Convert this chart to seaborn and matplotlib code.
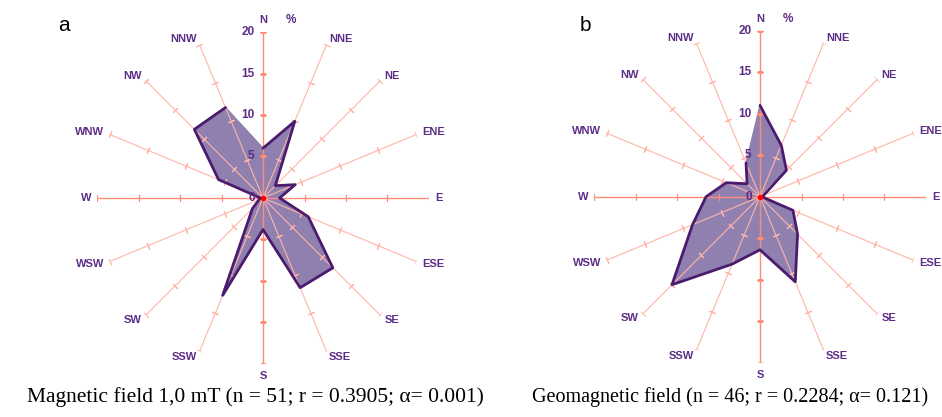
import numpy as np
import matplotlib
matplotlib.use('Agg')
import matplotlib.pyplot as plt
import seaborn as sns

# Wind-rose style directions and frequencies (%)
directions = ['N', 'NNE', 'NE', 'ENE', 'E', 'ESE', 'SE', 'SSE',
              'S', 'SSW', 'SW', 'WSW', 'W', 'WNW', 'NW', 'NNW']
field_a = [6.0, 10.0, 2.1, 4.2, 2.0, 5.9, 11.9, 11.7,
           3.8, 12.7, 1.8, 0.5, 0.3, 5.8, 11.7, 11.8]
field_b = [11.0, 6.7, 4.5, 0.5, 0.2, 4.3, 6.4, 11.1,
           6.4, 8.8, 15.0, 8.8, 6.5, 4.4, 2.2, 4.4]
radial_ticks = [0, 5, 10, 15, 20]
captions = ['Magnetic field 1,0 mT (n = 51; r = 0.3905; \u03b1= 0.001)',
            'Geomagnetic field (n = 46; r = 0.2284; \u03b1= 0.121)']
panel_letters = ['a', 'b']

sns.set_theme(style='white')
plt.rcParams['font.family'] = ['Liberation Sans', 'DejaVu Sans']

text_col = '#5C2D86'
edge_col = '#4B1C6E'
fill_col = '#8F80B0'
spoke_main = '#FF8C78'
spoke_light = '#FFB5A8'

fig = plt.figure(figsize=(9.42, 4.17), dpi=100)


def draw_rose(rect, values):
    ax = fig.add_axes(rect, projection='polar')
    ax.set_theta_zero_location('N')
    ax.set_theta_direction(-1)
    ax.set_ylim(0, 20)
    ax.axis('off')

    angles_deg = np.arange(len(directions)) * 22.5
    theta = np.deg2rad(angles_deg)

    # polygon
    th_closed = np.append(theta, theta[0])
    v_closed = np.append(values, values[0])
    ax.fill(th_closed, v_closed, color=fill_col, zorder=1)

    # spokes with tick marks and direction labels
    for i, (t, a) in enumerate(zip(theta, angles_deg)):
        main = i % 4 == 0
        col = spoke_main if main else spoke_light
        lw = 1.0 if main else 0.8
        ax.plot([t, t], [0, 20], color=col, lw=lw, zorder=2)
        ax.plot([t] * 4, radial_ticks[1:], linestyle='none',
                marker=(2, 2, 90 - a), ms=5, mew=0.8, color=col, zorder=2)

        sx, sy = np.sin(t), np.cos(t)
        if a in (0, 180):
            ha, d = 'center', 12
        elif a < 180:
            ha, d = 'left', 6
        else:
            ha, d = 'right', 6
        ax.annotate(directions[i], xy=(t, 20), xytext=(d * sx, d * sy),
                    textcoords='offset pixels', ha=ha, va='center',
                    color=text_col, fontsize=8, fontweight='bold',
                    annotation_clip=False)

    sns.lineplot(x=th_closed, y=v_closed, sort=False, ax=ax,
                 color=edge_col, lw=2.0, zorder=3)
    ax.plot([0], [0], 'o', color='red', ms=3, zorder=4)

    for r in radial_ticks:
        ax.annotate(str(r), xy=(0, r), xytext=(-6, 0), textcoords='offset points',
                    ha='right', va='center', color=text_col, fontsize=8.5,
                    fontweight='bold', annotation_clip=False)
    ax.annotate('%', xy=(0, 20), xytext=(28, 12), textcoords='offset pixels',
                ha='center', va='center', color=text_col, fontsize=8.5,
                fontweight='bold', annotation_clip=False)
    return ax


draw_rose([0.1030, 0.1271, 0.3524, 0.7962], field_a)
draw_rose([0.6306, 0.1302, 0.3524, 0.7962], field_b)

fig.text(0.068, 0.94, panel_letters[0], fontsize=15, color='black', ha='center', va='center')
fig.text(0.621, 0.94, panel_letters[1], fontsize=15, color='black', ha='center', va='center')

serif = ['Liberation Serif', 'DejaVu Serif']
fig.text(0.2707, 0.036, captions[0], fontsize=15.5, family=serif,
         ha='center', va='baseline', color='black')
fig.text(0.7755, 0.036, captions[1], fontsize=14.5, family=serif,
         ha='center', va='baseline', color='black')

fig.savefig('out.png', dpi=100)
